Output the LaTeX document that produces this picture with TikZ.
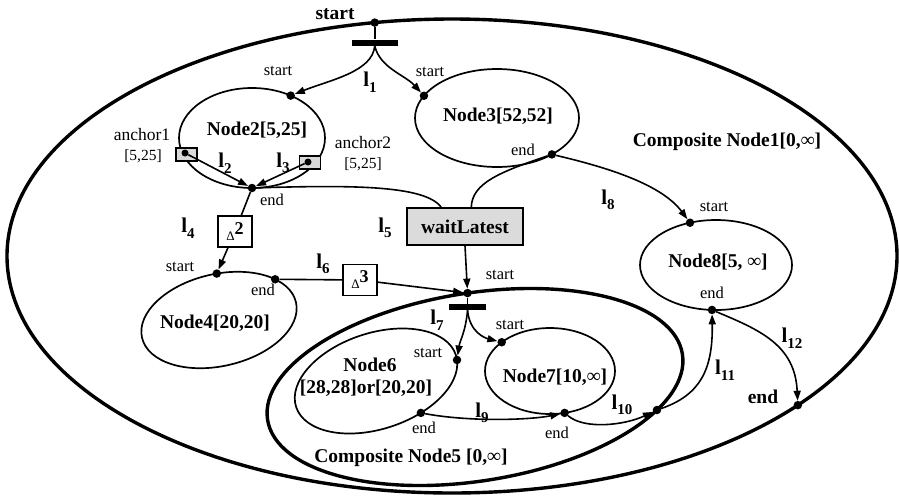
\documentclass[tikz,border=0pt]{standalone}
\usepackage{fontspec}
\setmainfont{Liberation Serif}
\usetikzlibrary{arrows.meta,calc}
\tikzset{
  conn/.style={line width=1.6pt, -{Triangle[length=10pt,width=7pt]}},
  plain/.style={line width=1.6pt},
  ell/.style={line width=1.7pt},
  thickell/.style={line width=3.4pt},
  port/.style={circle, fill=black, inner sep=0pt, minimum size=8.5pt},
  bar/.style={fill=black, inner sep=0pt, minimum height=6pt},
  big/.style={font=\fontsize{19.5}{19.5}\selectfont\bfseries, inner sep=0pt},
  small/.style={font=\fontsize{16.5}{16.5}\selectfont, inner sep=0pt},
  anch/.style={font=\fontsize{17.5}{17.5}\selectfont, inner sep=0pt},
  brk/.style={font=\fontsize{15.5}{15.5}\selectfont, inner sep=0pt},
  lbl/.style={font=\fontsize{21}{21}\selectfont\bfseries, inner sep=0pt},
  deltabox/.style={draw, line width=1.6pt, fill=white, minimum width=34pt, minimum height=31pt, inner sep=0pt},
  anchbox/.style={draw, line width=1.3pt, fill=gray!30, minimum width=21pt, minimum height=13pt, inner sep=0pt},
}
\newcommand{\lname}[1]{l\raisebox{-5.5pt}{\fontsize{15}{15}\selectfont #1}}
\newcommand{\dlt}[1]{{\fontsize{13}{13}\selectfont\mdseries Δ}\raisebox{6pt}{\fontsize{18}{18}\selectfont\bfseries #1}}
\begin{document}
\begin{tikzpicture}[x=1pt,y=-1pt]
\useasboundingbox (0,0) rectangle (899,496);

% ---- ellipses and their ports ----
% Composite Node1
\begin{scope}[shift={(452,256)}]
  \draw[thickell] (0,0) ellipse [x radius=445, y radius=237];
  \coordinate (p1s) at (-100:445 and 237);
  \coordinate (p1e) at (39:445 and 237);
\end{scope}
% Node2
\begin{scope}[shift={(252,138)}]
  \draw[ell] (0,0) ellipse [x radius=73, y radius=50];
  \coordinate (p2s) at (-58:73 and 50);
  \coordinate (p2e) at (90:73 and 50);
\end{scope}
% Node3
\begin{scope}[shift={(497,118)}]
  \draw[ell] (0,0) ellipse [x radius=82, y radius=49];
  \coordinate (p3s) at (-153:82 and 49);
  \coordinate (p3e) at (48:82 and 49);
\end{scope}
% Node8
\begin{scope}[shift={(716,265)}]
  \draw[ell] (0,0) ellipse [x radius=76, y radius=45];
  \coordinate (p8s) at (-110:76 and 45);
  \coordinate (p8e) at (93:76 and 45);
\end{scope}
% Node4
\begin{scope}[shift={(219,320)}, rotate=13]
  \draw[ell] (0,0) ellipse [x radius=79, y radius=46];
  \coordinate (p4s) at (-84:79 and 46);
  \coordinate (p4e) at (-36:79 and 46);
\end{scope}
% Composite Node5
\begin{scope}[shift={(475,387)}, rotate=9]
  \draw[thickell] (0,0) ellipse [x radius=210, y radius=94];
  \coordinate (p5s) at (-88:210 and 94);
  \coordinate (p5e) at (33:210 and 94);
\end{scope}
% Node6
\begin{scope}[shift={(376,381)}, rotate=18]
  \draw[ell] (0,0) ellipse [x radius=84, y radius=48];
  \coordinate (p6s) at (6:84 and 48);
  \coordinate (p6e) at (67:84 and 48);
\end{scope}
% Node7
\begin{scope}[shift={(550,371)}]
  \draw[ell] (0,0) ellipse [x radius=65, y radius=43];
  \coordinate (p7s) at (-138:65 and 43);
  \coordinate (p7e) at (77:65 and 43);
\end{scope}

% ---- port dots ----
\node[port] (n1s) at (p1s) {};
\node[port] (n1e) at (p1e) {};
\node[port] (n2s) at (p2s) {};
\node[port] (n2e) at (p2e) {};
\node[port] (n3s) at (p3s) {};
\node[port] (n3e) at (p3e) {};
\node[port] (n8s) at (p8s) {};
\node[port] (n8e) at (p8e) {};
\node[port] (n4s) at (p4s) {};
\node[port] (n4e) at (p4e) {};
\node[port] (n5s) at (p5s) {};
\node[port] (n5e) at (p5e) {};
\node[port] (n6s) at (p6s) {};
\node[port] (n6e) at (p6e) {};
\node[port] (n7s) at (p7s) {};
\node[port] (n7e) at (p7e) {};

% ---- bars, boxes ----
\node[bar, minimum width=46pt] (bar1) at ($(n1s)+(0,20)$) {};
\node[bar, minimum width=37pt] (bar2) at ($(n5s)+(0,14)$) {};
\node[draw, fill=gray!28, line width=1.6pt, minimum width=116pt, minimum height=37pt, big] (wait) at (465,226.5) {waitLatest};
\node[deltabox] (d2) at (235,231.5) {\dlt{2}};
\node[deltabox] (d3) at (360,280) {\dlt{3}};
\node[anchbox] (a1) at (186.5,154.5) {};
\node[anchbox] (a2) at (310,162.5) {};
\node[port, minimum size=7pt] (a1d) at (185,153) {};
\node[port, minimum size=7pt] (a2d) at (308,162) {};

% ---- connectors ----
\draw[plain] (n1s) -- (bar1);
\draw[conn] (bar1.south) .. controls ($(bar1.south)+(-2,26)$) and (330,80) .. (n2s);
\draw[conn] (bar1.south) .. controls ($(bar1.south)+(5,22)$) and (405,75) .. (n3s);
\draw[conn] (a1d) -- (n2e);
\draw[conn] (a2d) -- (n2e);
\draw[plain] (n2e) .. controls (350,185) and (425,185) .. (wait.141);
\draw[plain] (n3e) .. controls (500,172) and (472,183) .. (wait.72);
\draw[conn] (n3e) .. controls (610,168) and (662,185) .. (n8s);
\draw[plain] (n2e) -- (d2);
\draw[conn] (d2) -- (n4s);
\draw[plain] (n4e) -- (d3);
\draw[conn] (d3) -- (n5s);
\draw[conn] (wait.south) -- (n5s);
\draw[plain] (n5s) -- (bar2);
\draw[conn] (bar2.south) .. controls ($(bar2.south)+(-2,22)$) and (460,340) .. (n6s);
\draw[conn] (bar2.south) .. controls ($(bar2.south)+(2,22)$) and (485,338) .. (n7s);
\draw[conn] (n6e) .. controls (470,422) and (530,420) .. (n7e);
\draw[conn] (n7e) .. controls (585,430) and (625,425) .. (n5e);
\draw[conn] (n5e) .. controls (700,395) and (713,370) .. (n8e);
\draw[conn] (n8e) .. controls (760,330) and (795,345) .. (n1e);

% ---- texts ----
\node[big] (t1s) at (335,14) {start};
\node[small] (t2s) at (278,71) {start};
\node[lbl] (tl1) at (370,82) {\lname{1}};
\node[small] (t3s) at (430,72) {start};
\node[big] (t2) at (257,130) {Node2[5,25]};
\node[anch] (ta1) at (142,135) {anchor1};
\node[brk] (ta1b) at (143,156) {[5,25]};
\node[anch] (ta2) at (363,143) {anchor2};
\node[brk] (ta2b) at (363,164) {[5,25]};
\node[lbl] (tl2) at (225,163) {\lname{2}};
\node[lbl] (tl3) at (283,163) {\lname{3}};
\node[small] (t2e) at (272,200) {end};
\node[lbl] (tl4) at (188,228) {\lname{4}};
\node[lbl] (tl5) at (385,228) {\lname{5}};
\node[small] (t4s) at (180,267) {start};
\node[small] (t4e) at (263,290) {end};
\node[lbl] (tl6) at (323,264) {\lname{6}};
\node[big] (t4) at (215,323) {Node4[20,20]};
\node[lbl] (tl7) at (437,320) {\lname{7}};
\node[small] (t6s) at (428,353) {start};
\node[big] (t6a) at (370,365) {Node6};
\node[big] (t6b) at (366,388) {[28,28]or[20,20]};
\node[small] (t6e) at (424,428) {end};
\node[big] (t5) at (411,458) {Composite Node5 [0,∞]};
\node[big] (t3) at (498,116) {Node3[52,52]};
\node[small] (t3e) at (523,150) {end};
\node[big] (t1) at (727,142) {Composite Node1[0,∞]};
\node[lbl] (tl8) at (608,200) {\lname{8}};
\node[small] (tws) at (500,275) {start};
\node[small] (t8s) at (714,207) {start};
\node[big] (t8) at (718,262) {Node8[5, ∞]};
\node[small] (t8e) at (712,293) {end};
\node[small] (t7s) at (510,325) {start};
\node[big] (t7) at (555,377) {Node7[10,∞]};
\node[lbl] (tl9) at (482,413) {\lname{9}};
\node[small] (t7e) at (557,433) {end};
\node[lbl] (tl10) at (622,405) {\lname{10}};
\node[lbl] (tl11) at (725,370) {\lname{11}};
\node[lbl] (tl12) at (792,338) {\lname{12}};
\node[big] (t1e) at (763,397) {end};
\end{tikzpicture}
\end{document}
